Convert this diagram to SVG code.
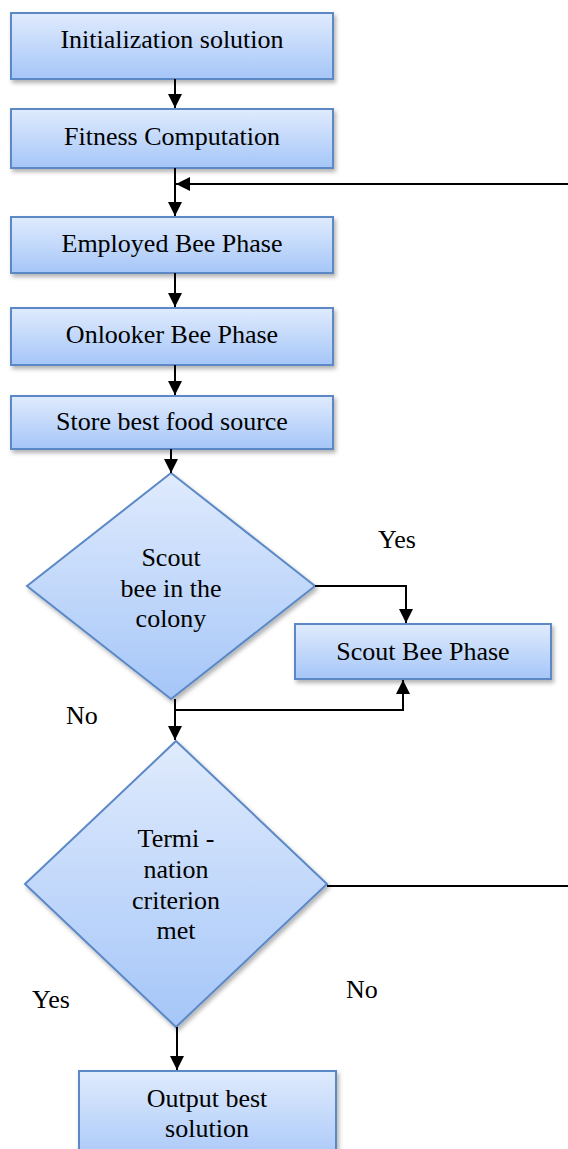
<svg xmlns="http://www.w3.org/2000/svg" width="568" height="1149" viewBox="0 0 568 1149">
<defs>
<linearGradient id="g" x1="0" y1="0" x2="0" y2="1">
<stop offset="0" stop-color="#e0ebfd"/>
<stop offset="1" stop-color="#a5c6f8"/>
</linearGradient>
<filter id="sh" x="-10%" y="-10%" width="125%" height="130%">
<feDropShadow dx="2" dy="3" stdDeviation="2" flood-color="#000" flood-opacity="0.3"/>
</filter>
<marker id="ah" markerUnits="userSpaceOnUse" markerWidth="16" markerHeight="16" viewBox="0 0 16 16" refX="14" refY="8" orient="auto">
<path d="M0,1 L14,8 L0,15 z" fill="#000"/>
</marker>
<style>
.n{fill:url(#g);stroke:#5b89c6;stroke-width:2;filter:url(#sh)}
.c{fill:none;stroke:#000;stroke-width:2}
</style>
</defs>
<g font-family="Liberation Serif, Times New Roman, Times, serif" font-size="26" fill="#000">
<g id="n1"><rect class="n" x="11" y="13" width="322" height="66"/><text text-anchor="middle" x="172" y="48">Initialization solution</text></g>
<g id="n2"><rect class="n" x="11" y="109" width="322" height="59"/><text text-anchor="middle" x="172" y="145">Fitness Computation</text></g>
<g id="n3"><rect class="n" x="11" y="217" width="322" height="56"/><text text-anchor="middle" x="172" y="252">Employed Bee Phase</text></g>
<g id="n4"><rect class="n" x="11" y="308" width="322" height="57"/><text text-anchor="middle" x="172" y="343">Onlooker Bee Phase</text></g>
<g id="n5"><rect class="n" x="11" y="396" width="322" height="53"/><text text-anchor="middle" x="172" y="430">Store best food source</text></g>
<g id="n6"><polygon class="n" points="171,473 315,586 171,699 27,586"/><text text-anchor="middle" x="171" y="566">Scout</text><text text-anchor="middle" x="171" y="597">bee in the</text><text text-anchor="middle" x="171" y="627">colony</text></g>
<g id="n7"><rect class="n" x="295" y="624" width="256" height="55"/><text text-anchor="middle" x="423" y="660">Scout Bee Phase</text></g>
<g id="n8"><polygon class="n" points="176,741 327,884 176,1027 25,884"/><text text-anchor="middle" x="176" y="847">Termi -</text><text text-anchor="middle" x="176" y="878">nation</text><text text-anchor="middle" x="176" y="909">criterion</text><text text-anchor="middle" x="176" y="939">met</text></g>
<g id="n9"><rect class="n" x="79" y="1071" width="257" height="95"/><text text-anchor="middle" x="207" y="1107">Output best</text><text text-anchor="middle" x="207" y="1137">solution</text></g>
<g id="labels">
<text x="378" y="548">Yes</text>
<text x="66" y="724">No</text>
<text x="32" y="1008">Yes</text>
<text x="346" y="998">No</text>
</g>
</g>
<g id="connectors">
<line class="c" x1="175" y1="79" x2="175" y2="108" marker-end="url(#ah)"/>
<line class="c" x1="175" y1="168" x2="175" y2="216" marker-end="url(#ah)"/>
<line class="c" x1="568" y1="184" x2="176" y2="184" marker-end="url(#ah)"/>
<line class="c" x1="175" y1="273" x2="175" y2="307" marker-end="url(#ah)"/>
<line class="c" x1="175" y1="365" x2="175" y2="395" marker-end="url(#ah)"/>
<line class="c" x1="171" y1="449" x2="171" y2="473" marker-end="url(#ah)"/>
<polyline class="c" points="315,586 406,586 406,623" marker-end="url(#ah)"/>
<line class="c" x1="175" y1="699" x2="175" y2="740" marker-end="url(#ah)"/>
<polyline class="c" points="175,710 403,710 403,680" marker-end="url(#ah)"/>
<line class="c" x1="327" y1="886" x2="568" y2="886"/>
<line class="c" x1="177" y1="1027" x2="177" y2="1070" marker-end="url(#ah)"/>
</g>
</svg>
